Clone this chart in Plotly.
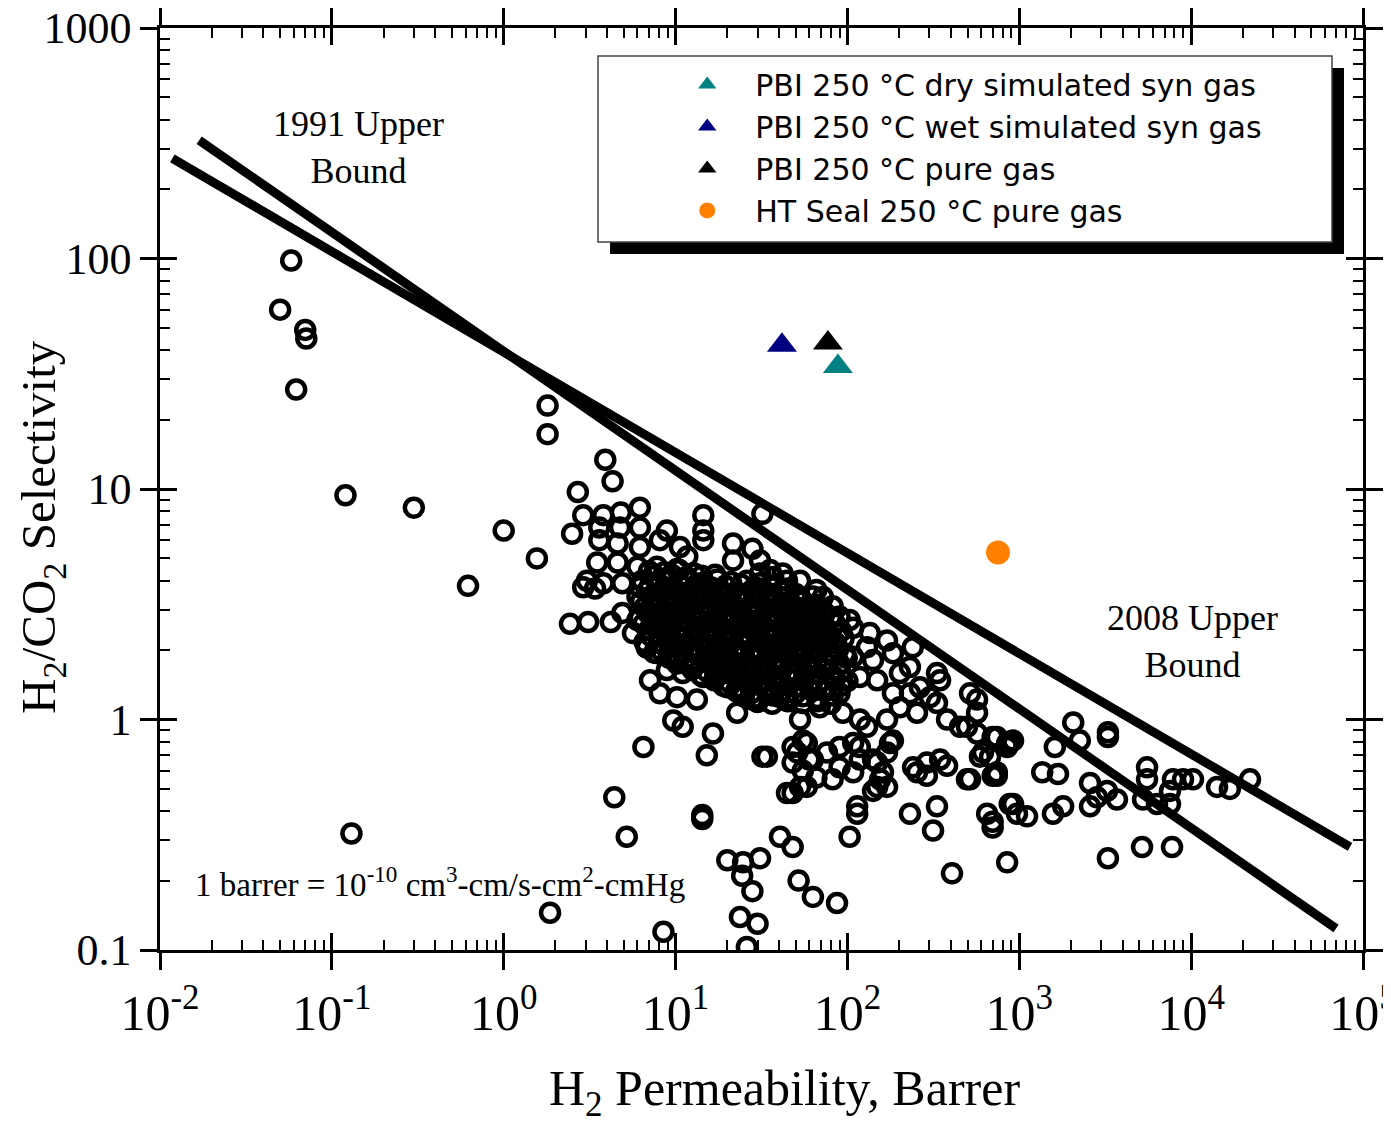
import plotly.graph_objects as go

# Robeson database: (H2 permeability [Barrer], H2/CO2 selectivity)
left_outliers = [
    (0.058, 98), (0.050, 60), (0.070, 49), (0.071, 45), (0.062, 27), (0.12, 9.4),
    (0.30, 8.3), (0.62, 3.8), (1.0, 6.6), (1.56, 5.0), (1.8, 23), (1.8, 17.3),
    (3.9, 13.4), (4.3, 10.8), (2.7, 9.7), (32, 7.8), (0.13, 0.32), (1.86, 0.145),
    (8.5, 0.12), (4.4, 0.46), (5.2, 0.31), (6.5, 0.76), (2.5, 6.4),
]
upper_group = [
    (2.9, 7.7), (3.8, 7.7), (4.8, 7.9), (6.2, 8.3), (14.5, 7.7), (14.5, 6.6), (14.5, 6.0),
    (21.6, 5.8), (28, 5.5), (3.6, 6.8), (4.75, 6.8), (6.2, 6.8), (8.9, 6.6), (3.6, 6.0),
    (4.6, 5.8), (6.2, 5.6), (8.1, 6.0), (10.6, 5.6), (11.7, 5.1), (3.5, 4.8), (4.6, 4.8),
    (6.0, 4.6), (7.8, 4.6), (10.2, 4.5), (3.05, 4.0), (3.8, 3.9), (4.9, 3.9), (6.2, 3.75),
    (2.9, 3.75), (3.4, 3.7), (2.43, 2.6), (3.1, 2.65), (4.2, 2.65), (4.9, 2.9), (6.0, 2.7),
    (5.65, 2.37), (21.6, 4.9), (31, 4.9), (44.5, 4.0), (31, 4.3), (37, 4.15),
]
core = [
    (7.0, 4.4), (8.6, 4.35), (10.5, 4.45), (12.8, 4.3),
    (6.4, 4.0), (7.8, 3.95), (9.4, 4.05), (11.5, 4.0), (14, 3.9), (17.5, 4.05), (21, 3.95),
    (26, 4.0), (31, 3.9),
    (6.8, 3.6), (8.3, 3.55), (10, 3.65), (12.2, 3.6), (15, 3.5), (18.5, 3.6), (23, 3.55),
    (28, 3.65), (34, 3.55), (41, 3.6), (50, 3.5),
    (6.3, 3.25), (7.5, 3.2), (9, 3.3), (11, 3.2), (13.5, 3.25), (16.5, 3.3), (20, 3.2),
    (24.5, 3.25), (30, 3.15), (36, 3.3), (44, 3.2), (55, 3.25), (66, 3.15),
    (6.9, 2.9), (8.4, 2.95), (10.2, 2.85), (12.5, 2.9), (15.5, 2.95), (19, 2.85), (23.5, 2.9),
    (28.5, 2.95), (35, 2.85), (42, 2.9), (52, 2.95), (61, 2.85), (74, 2.9),
    (6.5, 2.6), (7.9, 2.55), (9.6, 2.6), (11.8, 2.65), (14.5, 2.55), (17.8, 2.6), (21.5, 2.65),
    (26.5, 2.55), (32, 2.6), (39, 2.65), (47, 2.55), (57, 2.6), (70, 2.55), (85, 2.6),
    (7.2, 2.3), (8.8, 2.35), (10.8, 2.25), (13.2, 2.3), (16, 2.35), (19.8, 2.25), (24, 2.3),
    (29.5, 2.35), (36, 2.25), (44, 2.3), (53, 2.35), (65, 2.25), (79, 2.3), (95, 2.25),
    (6.8, 2.05), (8.2, 2.0), (10, 2.1), (12.2, 2.05), (15, 2.0), (18.2, 2.1), (22.5, 2.05),
    (27.5, 2.0), (33, 2.1), (40.5, 2.05), (49, 2.0), (60, 2.1), (73, 2.05), (88, 2.0),
    (9.2, 1.85), (11.2, 1.8), (13.8, 1.9), (16.8, 1.85), (20.5, 1.8), (25, 1.9), (30.5, 1.85),
    (37, 1.8), (45, 1.9), (55, 1.85), (67, 1.8), (81, 1.9), (99, 1.85),
    (12.5, 1.65), (15.2, 1.62), (18.8, 1.68), (23, 1.65), (28, 1.6), (34, 1.68), (41.5, 1.65),
    (50.5, 1.6), (61, 1.68), (75, 1.65), (91, 1.6),
    (16.8, 1.48), (20.5, 1.45), (25, 1.5), (31, 1.47), (37.5, 1.45), (46, 1.5), (56, 1.48),
    (68, 1.45), (83, 1.5), (100, 1.47),
    (22.5, 1.33), (27.5, 1.3), (33.5, 1.35), (41, 1.32), (50, 1.3), (61, 1.35), (74, 1.33),
    (90, 1.3),
    (30, 1.19), (36.5, 1.17), (45, 1.2), (55, 1.18), (67, 1.2), (80, 1.17),
]
core_fill = [
    (7.6, 4.2), (9.5, 4.25), (11.6, 4.15), (14.2, 4.2), (17, 4.25),
    (7.1, 3.8), (8.7, 3.75), (10.6, 3.85), (13, 3.8), (16, 3.75), (19.5, 3.8), (24, 3.85),
    (29, 3.75), (36, 3.8), (45, 3.7),
    (6.0, 3.42), (7.3, 3.4), (8.9, 3.45), (10.8, 3.4), (13.2, 3.38), (16.2, 3.45), (19.8, 3.4),
    (24, 3.42), (29.5, 3.38), (36, 3.45), (44, 3.4), (53, 3.38), (63, 3.42),
    (6.6, 3.07), (8, 3.05), (9.8, 3.1), (12, 3.05), (14.8, 3.08), (18, 3.03), (22, 3.1),
    (27, 3.05), (33, 3.07), (40, 3.02), (49, 3.1), (59, 3.05), (71, 3.0),
    (6.2, 2.75), (7.6, 2.72), (9.2, 2.78), (11.2, 2.75), (13.7, 2.7), (16.8, 2.78), (20.5, 2.73),
    (25, 2.76), (30.5, 2.7), (37.5, 2.78), (45, 2.72), (55, 2.75), (67, 2.7), (80, 2.78),
    (7.0, 2.45), (8.5, 2.42), (10.4, 2.48), (12.7, 2.43), (15.5, 2.47), (19, 2.42), (23, 2.48),
    (28, 2.44), (34.5, 2.46), (42, 2.42), (51, 2.48), (62, 2.43), (76, 2.46), (92, 2.42),
    (6.6, 2.17), (8, 2.15), (9.7, 2.2), (11.8, 2.16), (14.5, 2.18), (17.6, 2.14), (21.5, 2.2),
    (26.5, 2.16), (32, 2.18), (39, 2.14), (47.5, 2.2), (58, 2.15), (70, 2.18), (86, 2.14),
    (7.5, 1.95), (9.1, 1.93), (11, 1.97), (13.5, 1.94), (16.5, 1.96), (20, 1.92), (24.5, 1.97),
    (30, 1.94), (36.5, 1.96), (44.5, 1.92), (54, 1.97), (66, 1.94), (80, 1.95), (97, 1.93),
    (10.2, 1.75), (12.4, 1.73), (15.2, 1.77), (18.5, 1.74), (22.5, 1.76), (27.5, 1.72),
    (33.5, 1.77), (41, 1.74), (50, 1.76), (61, 1.72), (74, 1.77), (90, 1.74),
    (14, 1.56), (17, 1.54), (20.8, 1.58), (25.5, 1.55), (31, 1.57), (38, 1.54), (46, 1.58),
    (56, 1.55), (68, 1.57), (83, 1.54),
    (19, 1.4), (23, 1.38), (28, 1.42), (34.5, 1.39), (42, 1.41), (51, 1.38), (62, 1.42),
    (76, 1.39), (92, 1.4),
    (25, 1.26), (30.5, 1.24), (37, 1.27), (45, 1.25), (55, 1.26), (67, 1.24), (82, 1.27),
]
core_center = [
    (8.0, 3.35), (9.6, 3.48), (11.8, 3.3), (14.3, 3.5), (17.2, 3.32), (21, 3.5), (25.5, 3.33),
    (31, 3.5), (38, 3.33),
    (8.6, 2.82), (10.5, 2.68), (12.9, 2.82), (15.8, 2.67), (19.3, 2.82), (23.5, 2.67),
    (28.8, 2.83), (35, 2.67), (43, 2.82), (52, 2.65),
    (9.2, 2.38), (11.3, 2.27), (13.8, 2.4), (16.9, 2.27), (20.6, 2.4), (25.2, 2.27), (30.8, 2.4),
    (37.6, 2.27), (46, 2.4), (56, 2.27), (68, 2.38),
    (12.8, 1.98), (15.7, 1.88), (19.2, 2.0), (23.5, 1.88), (28.7, 2.0), (35, 1.88), (43, 2.0),
    (52.5, 1.88), (64, 2.0),
    (17.5, 1.66), (21.4, 1.6), (26.2, 1.7), (32, 1.6), (39, 1.7), (47.5, 1.6), (58, 1.7),
]
mid_group = [
    (35.5, 4.45), (42, 4.3), (53, 4.0), (66, 3.65), (72, 3.4), (48, 3.1), (63, 3.0), (82, 3.1),
    (90, 2.8), (103, 2.7), (76, 2.37), (108, 2.5), (135, 2.37), (130, 2.06), (170, 2.2),
    (184, 1.94), (240, 2.06), (108, 1.87), (141, 1.81), (118, 1.53), (149, 1.48), (202, 1.59),
    (231, 1.69), (184, 1.3), (231, 1.3), (264, 1.38), (332, 1.59), (346, 1.48), (302, 1.25),
    (332, 1.18), (517, 1.3), (568, 1.22), (568, 1.07), (496, 0.93), (202, 1.13), (254, 1.07),
    (380, 1.0), (452, 0.93), (568, 0.87), (700, 0.84), (850, 0.79), (40.5, 1.25), (53, 1.0),
    (69, 1.13), (94, 1.07), (118, 1.0), (130, 0.93), (170, 1.0),
    (7.8, 1.94), (8.9, 1.64), (7.1, 1.48), (8.1, 1.3), (10.2, 1.25), (13.3, 1.22), (14.5, 1.53),
    (11, 1.59), (20, 1.38), (23.7, 1.3), (28, 1.22), (9.7, 0.99), (11, 0.93), (16.5, 0.87),
    (22.8, 1.07), (37, 1.3), (44.5, 1.22),
]
lower_group = [
    (34, 0.69), (55, 0.81), (51, 0.72), (63, 0.67), (55, 0.6), (76, 0.72), (90, 0.62),
    (82, 0.55), (108, 0.59), (118, 0.76), (141, 0.67), (170, 0.72), (184, 0.81), (161, 0.59),
    (149, 0.51), (241, 0.62), (290, 0.65), (346, 0.67), (380, 0.63), (290, 0.57), (254, 0.59),
    (496, 0.55), (590, 0.69), (700, 0.57), (850, 0.76), (920, 0.81), (44.5, 0.48), (53, 0.51),
    (15.2, 0.70), (32, 0.69), (14.3, 0.37), (14.3, 0.385), (48, 0.76), (58, 0.79), (48, 0.65),
    (60, 0.67), (90, 0.76), (108, 0.79), (118, 0.67), (149, 0.65), (177, 0.79), (155, 0.55),
    (141, 0.49), (170, 0.51), (48, 0.48), (58, 0.51), (66, 0.56), (114, 0.42), (114, 0.39),
    (103, 0.31), (231, 0.39), (332, 0.42), (315, 0.33), (517, 0.55), (740, 0.57), (615, 0.72),
    (650, 0.39), (700, 0.34), (880, 0.43), (970, 0.39), (850, 0.24), (406, 0.215), (20, 0.245),
    (24.7, 0.24), (31, 0.25), (24.4, 0.21), (28, 0.18), (40.5, 0.31), (48, 0.28), (52, 0.2),
    (63, 0.17), (87, 0.16), (23.7, 0.139), (30, 0.13), (26, 0.103),
]
far_right = [
    (740, 0.84), (880, 0.8), (676, 0.69), (740, 0.59), (2060, 0.97), (2250, 0.81), (1610, 0.76),
    (3280, 0.88), (3280, 0.84), (1360, 0.59), (1680, 0.58), (920, 0.43), (1110, 0.38),
    (1570, 0.39), (1800, 0.42), (2580, 0.53), (2830, 0.46), (2580, 0.42), (3240, 0.49),
    (3700, 0.45), (700, 0.36), (5540, 0.62), (5540, 0.55), (5250, 0.45), (6330, 0.43),
    (7530, 0.49), (7530, 0.43), (8970, 0.55), (14150, 0.51), (16800, 0.5), (22000, 0.55),
    (5180, 0.28), (7740, 0.28), (3280, 0.25), (7840, 0.55), (10250, 0.55),
]

# Robeson upper bounds (end points of each line)
bound_1991_perm = [0.0169, 69700]
bound_1991_sel = [326, 0.124]
bound_2008_perm = [0.0118, 84000]
bound_2008_sel = [272, 0.28]

# this work
series_names = [
    "PBI 250 °C dry simulated syn gas",
    "PBI 250 °C wet simulated syn gas",
    "PBI 250 °C pure gas",
    "HT Seal 250 °C pure gas",
]
series_perm = [88, 41.6, 77, 752]
series_sel = [34, 42, 43, 5.3]
series_colors = ["#008080", "#000080", "#000000", "#FF8000"]
series_symbols = ["triangle-up", "triangle-up", "triangle-up", "circle"]

x_tickvals = [1e-2, 1e-1, 1e0, 1e1, 1e2, 1e3, 1e4, 1e5]
x_ticktext = ["10<sup>-2</sup>", "10<sup>-1</sup>", "10<sup>0</sup>", "10<sup>1</sup>",
              "10<sup>2</sup>", "10<sup>3</sup>", "10<sup>4</sup>", "10<sup>5</sup>"]
y_tickvals = [0.1, 1, 10, 100, 1000]
y_ticktext = ["0.1", "1", "10", "100", "1000"]

SERIF = "Liberation Serif"
SANS = "DejaVu Sans"

pts = (left_outliers + upper_group + core + core_fill + core_center
       + mid_group + lower_group + far_right)

fig = go.Figure()

fig.add_trace(go.Scatter(
    x=[p[0] for p in pts], y=[p[1] for p in pts], mode="markers",
    marker=dict(symbol="circle-open", size=18, color="black", line=dict(width=4.5)),
    showlegend=False, hoverinfo="skip",
))

for bx, by in [(bound_1991_perm, bound_1991_sel), (bound_2008_perm, bound_2008_sel)]:
    fig.add_trace(go.Scatter(x=bx, y=by, mode="lines",
                             line=dict(color="black", width=9), showlegend=False))

for name, px, sy, col, sym in zip(series_names, series_perm, series_sel, series_colors, series_symbols):
    fig.add_trace(go.Scatter(
        x=[px], y=[sy], mode="markers", name=name,
        marker=dict(symbol=sym, size=26 if sym != "circle" else 24, color=col, line=dict(width=0)),
    ))

# empty trace so the overlay axes (inside ticks) get drawn
fig.add_trace(go.Scatter(x=[], y=[], xaxis="x2", yaxis="y2", showlegend=False))

tick_common = dict(type="log", showgrid=False, zeroline=False, linecolor="black",
                   linewidth=2.5, tickcolor="black", tickwidth=2.5, showline=True,
                   automargin=False)

# page body adds an 8 px margin, so the figure is 8 px smaller on each side
fig.update_layout(
    width=1383, height=1115,
    margin=dict(l=152, r=28, t=20, b=173),
    paper_bgcolor="white", plot_bgcolor="white",
    xaxis=dict(**tick_common, range=[-2, 5], mirror="ticks", ticks="outside", ticklen=17,
               tickmode="array", tickvals=x_tickvals, ticktext=x_ticktext,
               ticklabeloverflow="allow",
               tickfont=dict(family=SERIF, size=50, color="black")),
    yaxis=dict(**tick_common, range=[-1, 3], mirror="ticks", ticks="outside", ticklen=17,
               tickmode="array", tickvals=y_tickvals, ticktext=y_ticktext,
               ticklabeloverflow="allow",
               tickfont=dict(family=SERIF, size=44, color="black")),
    xaxis2=dict(**tick_common, range=[-2, 5], overlaying="x", anchor="y2", mirror="ticks",
                ticks="inside", ticklen=17, dtick=1, showticklabels=False,
                minor=dict(ticks="inside", ticklen=10, tickwidth=2, tickcolor="black", dtick="D1")),
    yaxis2=dict(**tick_common, range=[-1, 3], overlaying="y", anchor="x2", mirror="ticks",
                ticks="inside", ticklen=17, dtick=1, showticklabels=False,
                minor=dict(ticks="inside", ticklen=10, tickwidth=2, tickcolor="black", dtick="D1")),
    legend=dict(x=0.415, y=0.967, xanchor="left", yanchor="top",
                bgcolor="rgba(0,0,0,0)", borderwidth=0, itemwidth=86,
                font=dict(family=SANS, size=30, color="black")),
    showlegend=True,
)

# legend frame with drop shadow
fig.add_shape(type="rect", xref="paper", yref="paper", x0=0.3741, x1=0.9842, y0=0.7549, y1=0.9566,
              fillcolor="black", line=dict(width=0), layer="above")
fig.add_shape(type="rect", xref="paper", yref="paper", x0=0.3641, x1=0.9742, y0=0.7679, y1=0.9696,
              fillcolor="white", line=dict(color="#444444", width=1.5), layer="above")

fig.add_annotation(text="1991 Upper<br>Bound", xref="paper", yref="paper", x=0.1646, y=0.870,
                   xanchor="center", yanchor="middle", showarrow=False,
                   font=dict(family=SERIF, size=36, color="black"))
fig.add_annotation(text="2008 Upper<br>Bound", xref="paper", yref="paper", x=0.858, y=0.335,
                   xanchor="center", yanchor="middle", showarrow=False,
                   font=dict(family=SERIF, size=36, color="black"))
fig.add_annotation(text="1 barrer = 10<sup>-10</sup> cm<sup>3</sup>-cm/s-cm<sup>2</sup>-cmHg",
                   xref="paper", yref="paper", x=0.0274, y=0.0738, xanchor="left",
                   yanchor="middle", showarrow=False,
                   font=dict(family=SERIF, size=33, color="black"))
fig.add_annotation(text="H<sub>2</sub> Permeability, Barrer", xref="paper", yref="paper",
                   x=0.5195, y=-0.154, xanchor="center", yanchor="middle", showarrow=False,
                   font=dict(family=SERIF, size=50, color="black"))
fig.add_annotation(text="H<sub>2</sub>/CO<sub>2</sub> Selectivity", xref="paper", yref="paper",
                   x=-0.098, y=0.459, xanchor="center", yanchor="middle", textangle=-90,
                   showarrow=False, font=dict(family=SERIF, size=49, color="black"))

fig.write_html("out.html")
